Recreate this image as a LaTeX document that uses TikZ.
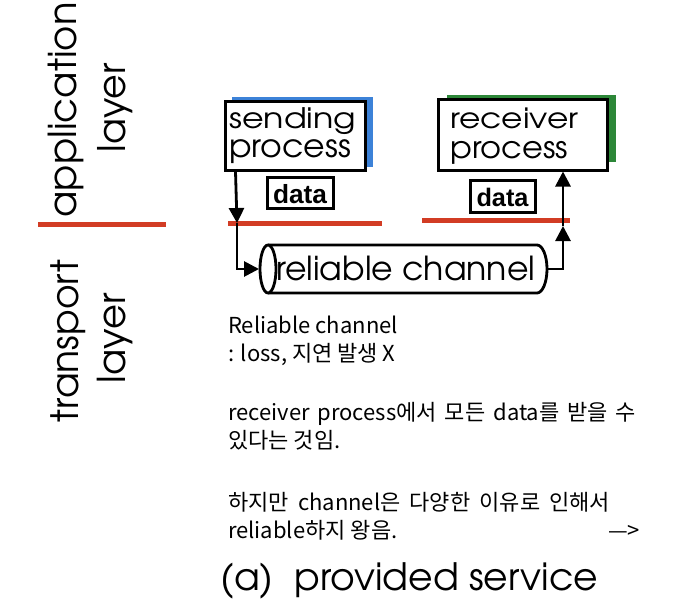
\documentclass[tikz,border=0pt]{standalone}
\usepackage{fontspec}
\usepackage{graphicx}
\usetikzlibrary{arrows.meta}
\newfontfamily\geo[Extension=.otf]{texgyreadventor-regular}
\newfontfamily\boldsans{Liberation Sans}
\newfontfamily\kr{Noto Sans CJK KR}
\newcommand{\fitw}[2]{\resizebox{#1pt}{!}{#2}}
\newcommand{\fitwh}[3]{\resizebox*{#1pt}{#2pt}{#3}}
\newcommand{\spreadto}[2]{\makebox[#1pt][s]{#2}}
\definecolor{redl}{RGB}{210,60,36}
\definecolor{shblue}{RGB}{60,130,216}
\definecolor{shgreen}{RGB}{44,135,56}
\tikzset{
  lbl/.style={inner sep=0pt, font=\geo},
  procbox/.style={draw=black, line width=3pt, fill=white, inner sep=0pt},
  databox/.style={draw=black, line width=3pt, fill=white, inner sep=0pt},
  redline/.style={draw=redl, line width=5pt},
  conn/.style={draw=black, line width=2.8pt},
  arr/.style={conn, -{Triangle[width=15pt,length=15pt]}},
  krtext/.style={inner sep=0pt, anchor=base west, font=\kr\fontsize{22}{30}\selectfont},
}
\begin{document}
\begin{tikzpicture}[x=1pt,y=-1pt]
\fill[white] (0,0) rectangle (700,604);
\useasboundingbox (0,0) rectangle (700,604);

% layer labels
\node[lbl, rotate=90] (app) at (66,110) {\fitw{215}{application}};
\node[lbl, rotate=90] (lay1) at (115,108) {\fitw{89}{layer}};
\node[lbl, rotate=90] (trans) at (68,341) {\fitw{162}{transport}};
\node[lbl, rotate=90] (lay2) at (115,338) {\fitw{90}{layer}};
\coordinate (sepL) at (38,224);
\coordinate (sepR) at (166,224);
\draw[redline] (sepL) -- (sepR);

% sending process
\fill[shblue] (232,97) rectangle (373,167);
\node[procbox, minimum width=140pt, minimum height=68pt] (send) at (295,136) {};
\node[lbl, anchor=north west] (send1) at (229,107) {\fitwh{127}{27}{sending}};
\node[lbl, anchor=north west] (send2) at (229,139) {\fitwh{122}{24}{process}};

% receiver process
\fill[shgreen] (447,95) rectangle (616,162);
\node[procbox, minimum width=169pt, minimum height=70pt] (recv) at (522.5,135) {};
\node[lbl, anchor=north west] (recv1) at (450,108) {\fitwh{128}{21}{receiver}};
\node[lbl, anchor=north west] (recv2) at (450,141) {\fitwh{118}{23}{process}};

% data boxes
\node[databox, minimum width=66pt, minimum height=31pt] (dataL) at (300,192.5) {};
\node[inner sep=0pt] (dataLt) at (300,194) {\fitw{54}{\boldsans\bfseries data}};
\node[databox, minimum width=65pt, minimum height=32pt] (dataR) at (502.5,196) {};
\node[inner sep=0pt] (dataRt) at (502.5,197.5) {\fitw{52}{\boldsans\bfseries data}};

% red lines
\coordinate (rlA) at (228,223);
\coordinate (rlB) at (382,223);
\coordinate (rlC) at (422,220);
\coordinate (rlD) at (570,220);
\draw[redline] (rlA) -- (rlB);
\draw[redline] (rlC) -- (rlD);

% channel (cylinder)
\draw[line width=2.8pt, fill=white] (268,245) -- (537,245)
  arc[start angle=-90, end angle=90, x radius=10, y radius=24] -- (268,293);
\draw[line width=2.8pt, fill=white] (268,269) ellipse[x radius=8, y radius=24];
\node[lbl, anchor=base west] (chan) at (276,280) {\fitw{259}{reliable channel}};
\coordinate (cylL) at (259,269);
\coordinate (cylR) at (546,269);

% connectors
\coordinate (downL) at (237,223);
\coordinate (upR) at (563,226);
\draw[arr] ([xshift=12pt]send.south west) -- (downL);
\draw[arr] (downL) |- (cylL);
\draw[arr] (cylR) -| (upR);
\draw[arr] (upR) -- (recv.south -| upR);

% Korean notes
\node[krtext] (k1) at (228,333) {Reliable channel};
\node[krtext] (k2) at (228,361) {: loss, 지연 발생 X};
\node[krtext] (k3) at (228,420) {\spreadto{408}{receiver process에서 모든 data를 받을 수}};
\node[krtext] (k4) at (228,448) {있다는 것임.};
\node[krtext] (k5) at (228,510) {\spreadto{382}{하지만 channel은 다양한 이유로 인해서}};
\node[krtext] (k6) at (228,538) {reliable하지 왕음.};
\node[krtext] (k7) at (608,538) {—>};

% caption
\node[lbl, anchor=base west] (cap) at (220,590) {\fitw{378}{(a)\ \ provided service}};
\end{tikzpicture}
\end{document}
